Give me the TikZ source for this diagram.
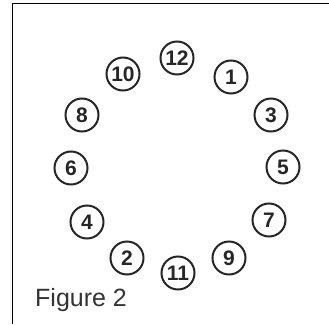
\documentclass[tikz,border=0pt]{standalone}
\usepackage{fontspec}
\setmainfont{Liberation Sans}
\begin{document}
\begin{tikzpicture}[x=1pt,y=-1pt,
  num/.style={circle,draw=black!85,line width=2pt,minimum size=33pt,inner sep=0pt,font=\fontsize{21}{21}\selectfont\bfseries,text=black!85},
  frame/.style={line width=1.6pt,black}]
\useasboundingbox (0,0) rectangle (329,324);
\fill[white] (0,0) rectangle (329,324);
\coordinate (fa) at (12.5,324);
\coordinate (fb) at (12.5,3.5);
\coordinate (fc) at (329,3.5);
\draw[frame] (fa) -- (fb) -- (fc);
\node[num] (n12) at (177,58) {12};
\node[num] (n10) at (123,74) {10};
\node[num] (n1) at (231,77) {1};
\node[num] (n8) at (82,115) {8};
\node[num] (n3) at (271,115) {3};
\node[num] (n6) at (71,168) {6};
\node[num] (n5) at (283,167) {5};
\node[num] (n4) at (87,222) {4};
\node[num] (n7) at (269,220) {7};
\node[num] (n2) at (127,258) {2};
\node[num] (n9) at (229,258) {9};
\node[num] (n11) at (178,273) {11};
\node[anchor=base west,inner sep=0pt,font=\fontsize{25}{25}\selectfont,text=black!80] (cap) at (35,306) {Figure 2};
\end{tikzpicture}
\end{document}
